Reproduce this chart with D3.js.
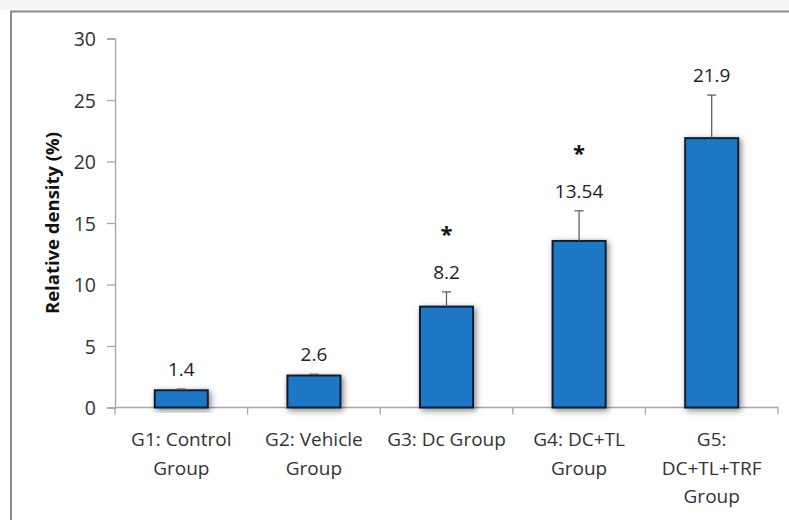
<!DOCTYPE html>
<html>
<head>
<meta charset="utf-8">
<script src="https://cdn.jsdelivr.net/npm/d3@7"></script>
<style>
  body { margin: 0; background: #fff; }
  svg { display: block; font-family: "Open Sans", sans-serif; }
  text.tick-label { fill: #333; font-size: 19.5px; font-family: "Open Sans", sans-serif; }
  text.cat-label { fill: #333; font-size: 19px; }
  text.value-label { fill: #222; font-size: 19px; }
</style>
</head>
<body>
<div id="chart-area"><svg></svg></div>
<script>
const categories = [
  ["G1: Control", "Group"],
  ["G2: Vehicle", "Group"],
  ["G3: Dc Group"],
  ["G4: DC+TL", "Group"],
  ["G5:", "DC+TL+TRF", "Group"]
];
const values = [1.4, 2.6, 8.2, 13.54, 21.9];
const errors = [0.1, 0.1, 1.2, 2.45, 3.5];
const valueLabels = ["1.4", "2.6", "8.2", "13.54", "21.9"];
const significant = [false, false, true, true, false];
const yTicks = [0, 5, 10, 15, 20, 25, 30];

const chartSize = { width: 789, height: 520 };
const margin = { left: 115, right: 11, top: 38.5, bottom: 112.5 };
const width = chartSize.width - margin.left - margin.right;
const height = chartSize.height - margin.top - margin.bottom;

const svg = d3.select('#chart-area svg')
  .attr("width", chartSize.width)
  .attr("height", chartSize.height);

const defs = svg.append("defs");
defs.append("filter")
  .attr("id", "shadow")
  .attr("x", "-30%").attr("y", "-30%")
  .attr("width", "160%").attr("height", "160%")
  .append("feDropShadow")
  .attr("dx", 2).attr("dy", 2)
  .attr("stdDeviation", 3)
  .attr("flood-color", "#000")
  .attr("flood-opacity", 0.5);

// frame of the figure
svg.append("rect")
  .attr("x", 0).attr("y", 0)
  .attr("width", chartSize.width).attr("height", 10)
  .attr("fill", "#f5f5f5");
svg.append("path")
  .attr("d", `M11,${chartSize.height} V11.5 H${chartSize.width}`)
  .attr("fill", "none")
  .attr("stroke", "#8a8a8a")
  .attr("stroke-width", 2);

const g = svg.append("g")
  .attr("transform", `translate(${margin.left},${margin.top})`);

const idx = d3.range(values.length);

const x = d3.scaleBand()
  .domain(idx)
  .range([0, width])
  .paddingInner(0.6)
  .paddingOuter(0.3);

const y = d3.scaleLinear()
  .domain([0, 30])
  .range([height, 0]);

// y axis
const yAxis = d3.axisLeft(y).tickValues(yTicks).tickSize(8).tickPadding(11);
const yg = g.append("g").attr("class", "y-axis").call(yAxis);
yg.attr("font-family", null).attr("font-size", null);
yg.select(".domain").attr("stroke", "#a6a6a6").attr("stroke-width", 1.3);
yg.selectAll(".tick line").attr("stroke", "#a6a6a6").attr("stroke-width", 1.3);
yg.selectAll(".tick text")
  .attr("class", "tick-label")
  .attr("dy", "0.36em");

// x axis line and boundary ticks
g.append("line")
  .attr("x1", 0).attr("x2", width)
  .attr("y1", height).attr("y2", height)
  .attr("stroke", "#a6a6a6").attr("stroke-width", 1.3);
const bounds = d3.range(values.length + 1).map(i => i * x.step());
g.selectAll(".x-tick")
  .data(bounds)
  .join("line")
  .attr("class", "x-tick")
  .attr("x1", d => d).attr("x2", d => d)
  .attr("y1", height).attr("y2", height + 7)
  .attr("stroke", "#a6a6a6").attr("stroke-width", 1.3);

// category labels
g.selectAll(".cat-label")
  .data(idx)
  .join("text")
  .attr("class", "cat-label")
  .attr("text-anchor", "middle")
  .attr("x", i => x(i) + x.bandwidth() / 2)
  .attr("y", height + 38.5)
  .selectAll("tspan")
  .data(i => categories[i].map(t => ({ t, i })))
  .join("tspan")
  .attr("x", d => x(d.i) + x.bandwidth() / 2)
  .attr("dy", (d, k) => k === 0 ? 0 : 28.5)
  .text(d => d.t);

// bars
g.selectAll(".bar")
  .data(idx)
  .join("rect")
  .attr("class", "bar")
  .attr("x", i => x(i))
  .attr("y", i => y(values[i]))
  .attr("width", x.bandwidth())
  .attr("height", i => height - y(values[i]))
  .attr("fill", "#1f77c4")
  .attr("stroke", "#0f1f36")
  .attr("stroke-width", 2)
  .attr("filter", "url(#shadow)");

// error bars
const errG = g.selectAll(".err")
  .data(idx)
  .join("g")
  .attr("class", "err")
  .attr("stroke", "#555")
  .attr("stroke-width", 1.2);
errG.append("line")
  .attr("x1", i => x(i) + x.bandwidth() / 2)
  .attr("x2", i => x(i) + x.bandwidth() / 2)
  .attr("y1", i => y(values[i]))
  .attr("y2", i => y(values[i] + errors[i]));
errG.append("line")
  .attr("x1", i => x(i) + x.bandwidth() / 2 - 4.5)
  .attr("x2", i => x(i) + x.bandwidth() / 2 + 4.5)
  .attr("y1", i => y(values[i] + errors[i]))
  .attr("y2", i => y(values[i] + errors[i]));

// value labels
g.selectAll(".value-label")
  .data(idx)
  .join("text")
  .attr("class", "value-label")
  .attr("text-anchor", "middle")
  .attr("x", i => x(i) + x.bandwidth() / 2)
  .attr("y", i => y(values[i] + errors[i]) - 13)
  .text(i => valueLabels[i]);

// significance stars
g.selectAll(".star")
  .data(idx.filter(i => significant[i]))
  .join("text")
  .attr("class", "star")
  .attr("text-anchor", "middle")
  .attr("font-weight", "bold")
  .attr("font-size", 22)
  .attr("fill", "#111")
  .attr("x", i => x(i) + x.bandwidth() / 2)
  .attr("y", i => y(values[i] + errors[i]) - 13 - 7 - 43 + 13)
  .text("*");

// y axis title
svg.append("text")
  .attr("transform", `translate(59,${margin.top + height / 2}) rotate(-90)`)
  .attr("text-anchor", "middle")
  .attr("font-weight", "bold")
  .attr("font-size", 18.5)
  .attr("fill", "#111")
  .text("Relative density (%)");
</script>
</body>
</html>
